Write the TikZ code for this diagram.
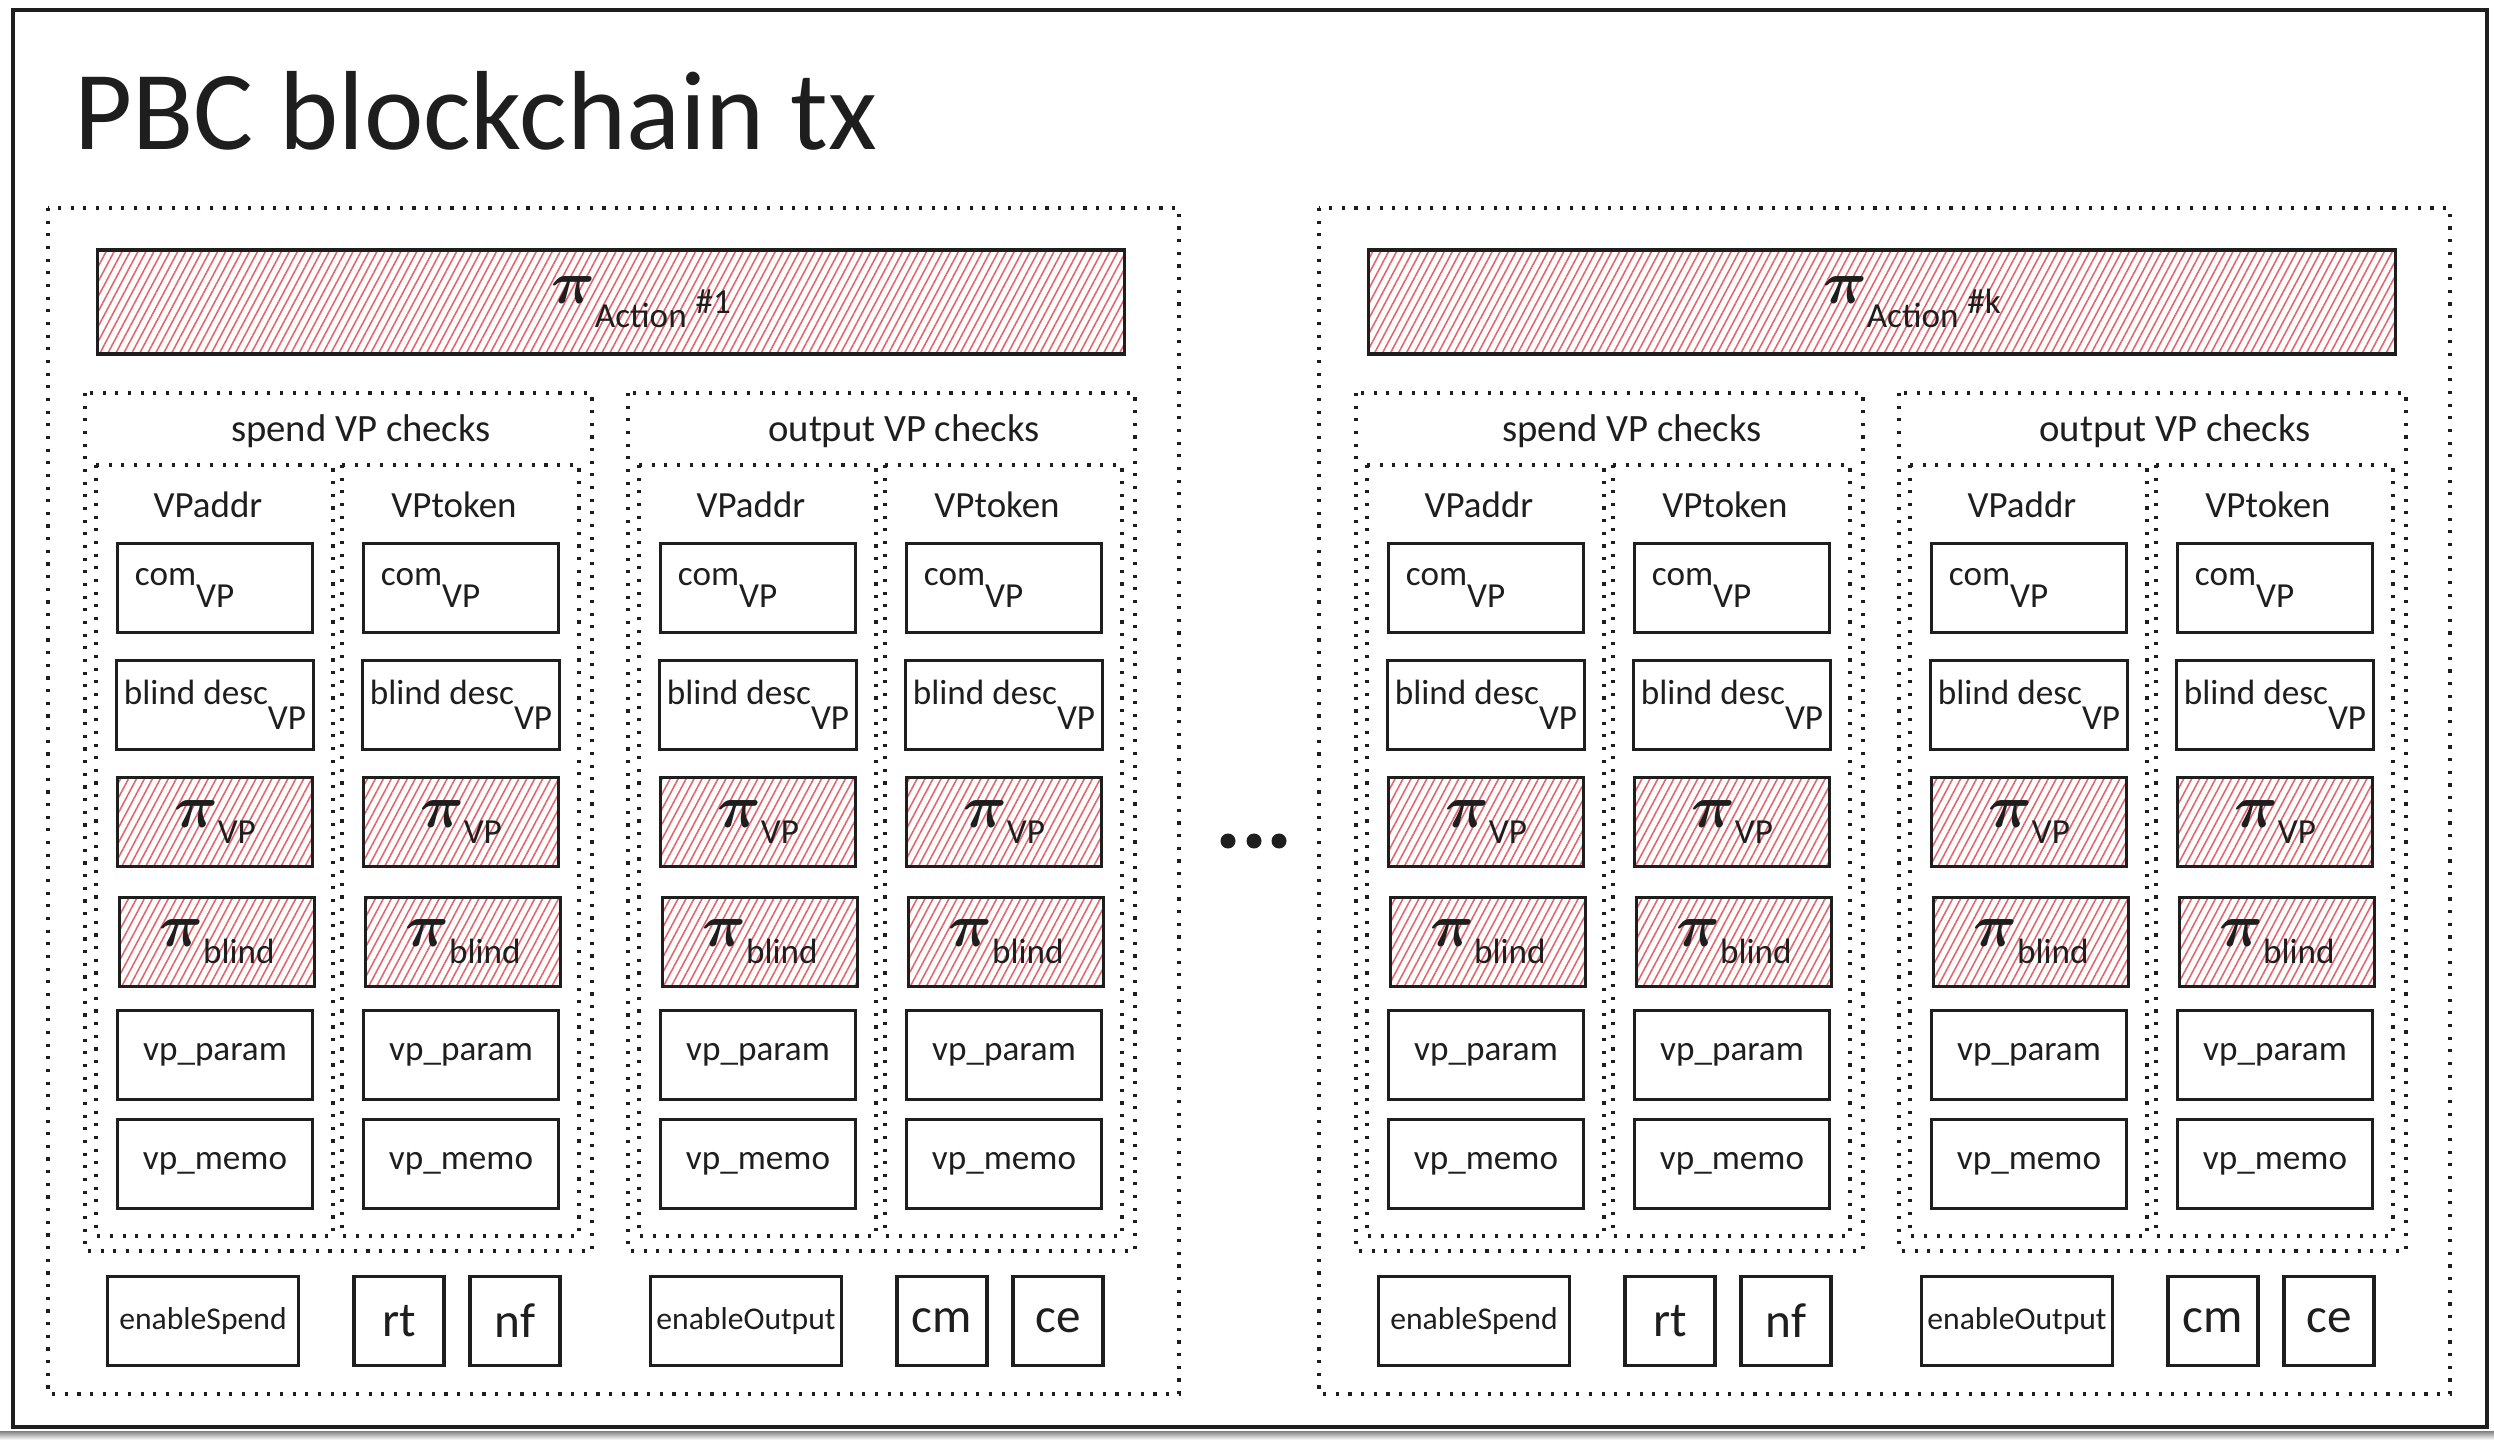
\documentclass[tikz,border=0pt]{standalone}
\usepackage{amsmath,amssymb}
\usepackage{fontspec}
\setmainfont{Carlito}
\usepackage{xcolor}
\usepackage{tikz}
\usetikzlibrary{patterns.meta}
\definecolor{ink}{HTML}{1E1E1E}
\definecolor{hatch}{HTML}{E2666B}
\definecolor{shade}{HTML}{EFEFEF}
\tikzset{
  outerframe/.style={draw=ink, line width=1.3pt},
  dotbox/.style={draw=ink, line width=0.9pt, dash pattern=on 0.9pt off 2.7pt},
  cellbox/.style={draw=ink, line width=0.9pt, minimum width=1.95cm, minimum height=0.89cm, inner sep=2pt, text=ink, font=\fontsize{10}{12}\selectfont},
  proofbox/.style={cellbox, pattern={Lines[angle=62,distance=2pt,line width=0.45pt]}, pattern color=hatch},
  tinybox/.style={cellbox, minimum width=0.9cm, font=\fontsize{14}{16}\selectfont},
  widebox/.style={cellbox, minimum width=1.91cm, inner sep=0.5pt, font=\fontsize{9}{11}\selectfont},
  collab/.style={text=ink, font=\fontsize{10.5}{12}\selectfont},
  grplab/.style={text=ink, font=\fontsize{11}{13}\selectfont},
  titlelab/.style={text=ink, font=\fontsize{32}{38}\selectfont},
}
\newcommand{\prf}[2][-1ex]{{\fontsize{18}{18}\selectfont$\boldsymbol{\pi}$}\raisebox{#1}{#2}}

\begin{document}
\begin{tikzpicture}[x=0.01cm, y=-0.01cm]
  \useasboundingbox (0,0) rectangle (2494,1440);
  \fill[shade] (0,1431) rectangle (2494,1440);
  \draw[outerframe] (13,10) rectangle (2487,1427);
  \node[titlelab, anchor=base west] (title) at (62,150) {PBC blockchain tx};

  % one block per action
  \foreach \k/\ox/\tag in {1/0/\#1, k/1271/\#k} {
    \draw[dotbox] (48+\ox,208) rectangle (1179+\ox,1394);
    \node[proofbox, minimum width=10.27cm, minimum height=1.04cm] (act\k) at (611+\ox,302)
      {\hspace*{0.6cm}\prf[-1.4ex]{Action}\hspace{0.25em}\raisebox{-0.6ex}{\tag}};

    \foreach \g/\gx/\gname/\en/\ba/\bb in {s/0/spend/enableSpend/rt/nf, o/543/output/enableOutput/cm/ce} {
      \draw[dotbox] (85+\ox+\gx,393) rectangle (592+\ox+\gx,1251);
      \node[grplab] (\g lab\k) at (361+\ox+\gx,431) {\gname\ VP checks};

      \foreach \c/\cx/\cname in {a/0/VPaddr, t/246/VPtoken} {
        \draw[dotbox] (96+\ox+\gx+\cx,465) rectangle (333+\ox+\gx+\cx,1236);
        \node[collab] (\g\c lab\k) at (208+\ox+\gx+\cx,505) {\cname};
        \node[cellbox, align=left, text width=1.6cm] (\g\c com\k) at (215+\ox+\gx+\cx,588) {com\raisebox{-1.3ex}{VP}};
        \node[cellbox] (\g\c desc\k) at (215+\ox+\gx+\cx,705) {blind desc\raisebox{-1.5ex}{VP}};
        \node[proofbox] (\g\c pvp\k) at (215+\ox+\gx+\cx,822) {\prf{VP}};
        \node[proofbox] (\g\c pbl\k) at (217+\ox+\gx+\cx,942) {\prf{blind}};
        \node[cellbox] (\g\c par\k) at (215+\ox+\gx+\cx,1055) {vp\_param};
        \node[cellbox] (\g\c memo\k) at (215+\ox+\gx+\cx,1164) {vp\_memo};
      }

      \node[widebox] (\g en\k) at (203+\ox+\gx,1321) {\en};
      \node[tinybox] (\g ba\k) at (399+\ox+\gx,1321) {\ba};
      \node[tinybox] (\g bb\k) at (515+\ox+\gx,1321) {\bb};
    }
  }

  % dots between the actions
  \foreach \dx in {1228,1254,1279}
    \fill[ink] (\dx,841) circle[radius=0.075cm];
\end{tikzpicture}
\end{document}
